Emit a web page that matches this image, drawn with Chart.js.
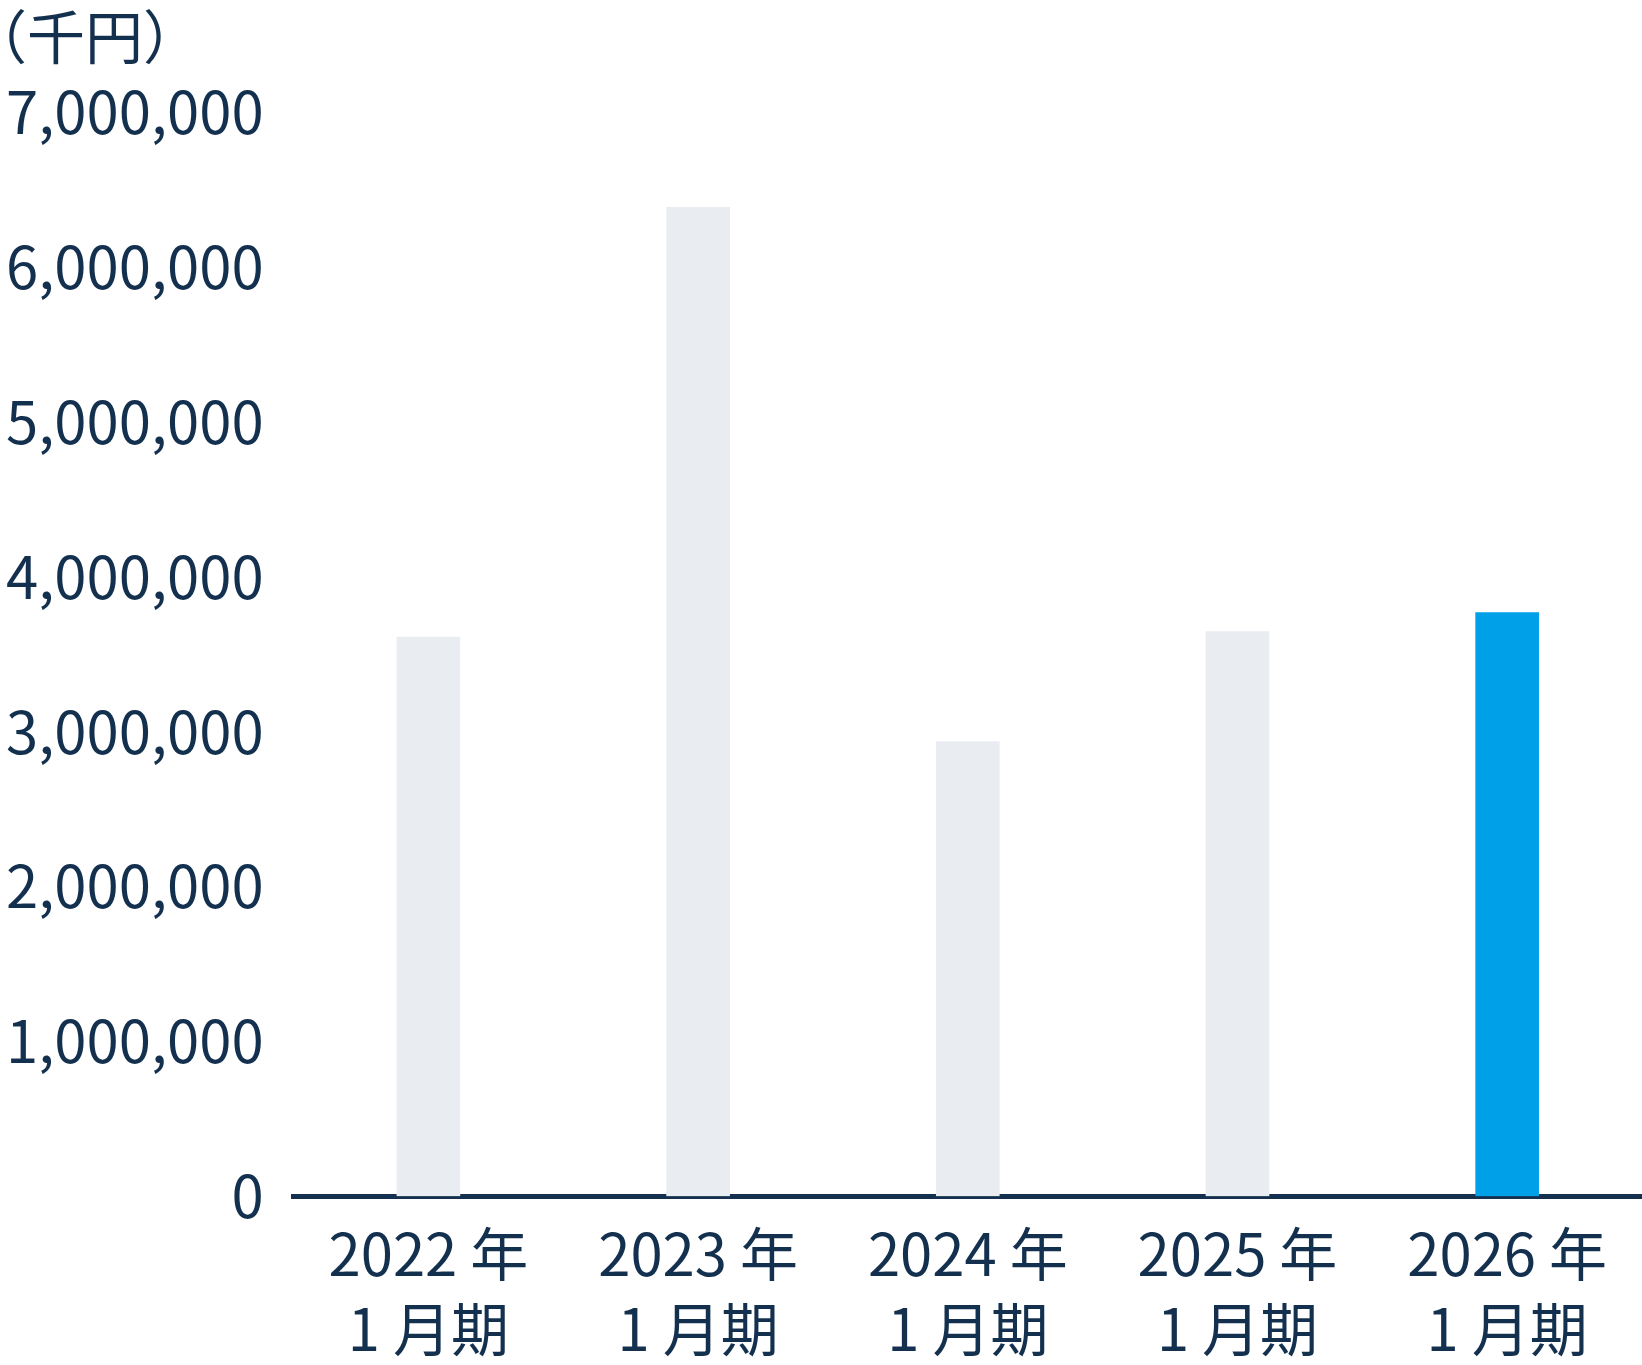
<!DOCTYPE html>
<html lang="ja">
<head>
<meta charset="utf-8">
<title>売上高</title>
<script src="https://cdn.jsdelivr.net/npm/chart.js@4.4.1/dist/chart.umd.min.js"></script>
<style>
    html, body { margin: 0; padding: 0; background: #ffffff; }
    #wrap { width: 1642px; height: 1365px; position: relative; }
</style>
</head>
<body>
<div id="wrap"><canvas id="salesChart"></canvas></div>
<script>
// データ（単位：千円）
const categories = [
    ['2022 年', '1 月期'],
    ['2023 年', '1 月期'],
    ['2024 年', '1 月期'],
    ['2025 年', '1 月期'],
    ['2026 年', '1 月期']
];
const salesValues = [3610000, 6385000, 2935000, 3645000, 3768000];
const barColors = ['#e9edf2', '#e9edf2', '#e9edf2', '#e9edf2', '#00a0e8'];
const yTickMin = 0;
const yTickMax = 7000000;
const yTickStep = 1000000;
const unitLabel = '（千円）';

const TEXT_COLOR = '#14304f';
const FONT_FAMILY = '"Noto Sans CJK JP", "Noto Sans", sans-serif';
const FONT_SIZE = 58;

// 単位ラベルを左上に描く
const unitLabelPlugin = {
    id: 'unitLabel',
    afterDraw(chart) {
        const ctx = chart.ctx;
        ctx.save();
        ctx.font = `${FONT_SIZE}px ${FONT_FAMILY}`;
        ctx.fillStyle = TEXT_COLOR;
        ctx.textAlign = 'left';
        ctx.textBaseline = 'middle';
        ctx.fillText(unitLabel, -31, 37);
        ctx.restore();
    }
};

function drawChart() {
    const ctx = document.getElementById('salesChart').getContext('2d');

    new Chart(ctx, {
        type: 'bar',
        data: {
            labels: categories,
            datasets: [{
                data: salesValues,
                backgroundColor: barColors,
                borderWidth: 0,
                barThickness: 63
            }]
        },
        options: {
            responsive: true,
            maintainAspectRatio: false,
            animation: false,
            layout: {
                // 余白は見本に合わせて調整
                padding: { top: 112, left: -24, right: 0, bottom: -22 }
            },
            plugins: {
                legend: { display: false },
                tooltip: { enabled: false }
            },
            scales: {
                x: {
                    z: 1,
                    grid: { display: false, drawTicks: false },
                    border: { display: true, color: TEXT_COLOR, width: 5 },
                    ticks: {
                        color: TEXT_COLOR,
                        padding: 20,
                        maxRotation: 0,
                        autoSkip: false,
                        font: { family: FONT_FAMILY, size: FONT_SIZE, lineHeight: 1.3 }
                    }
                },
                y: {
                    min: yTickMin,
                    max: yTickMax,
                    grid: { display: false, drawTicks: false },
                    border: { display: false },
                    ticks: {
                        stepSize: yTickStep,
                        color: TEXT_COLOR,
                        padding: 30,
                        font: { family: FONT_FAMILY, size: FONT_SIZE },
                        callback: (value) => value.toLocaleString('en-US')
                    }
                }
            }
        },
        plugins: [unitLabelPlugin]
    });
}

// フォントを読み込んでから描画（幅の計測ずれを防ぐ）
if (document.fonts && document.fonts.load) {
    document.fonts.load(`${FONT_SIZE}px "Noto Sans CJK JP"`, '0123456789,年月期千円')
        .then(drawChart, drawChart);
} else {
    drawChart();
}
</script>
</body>
</html>
